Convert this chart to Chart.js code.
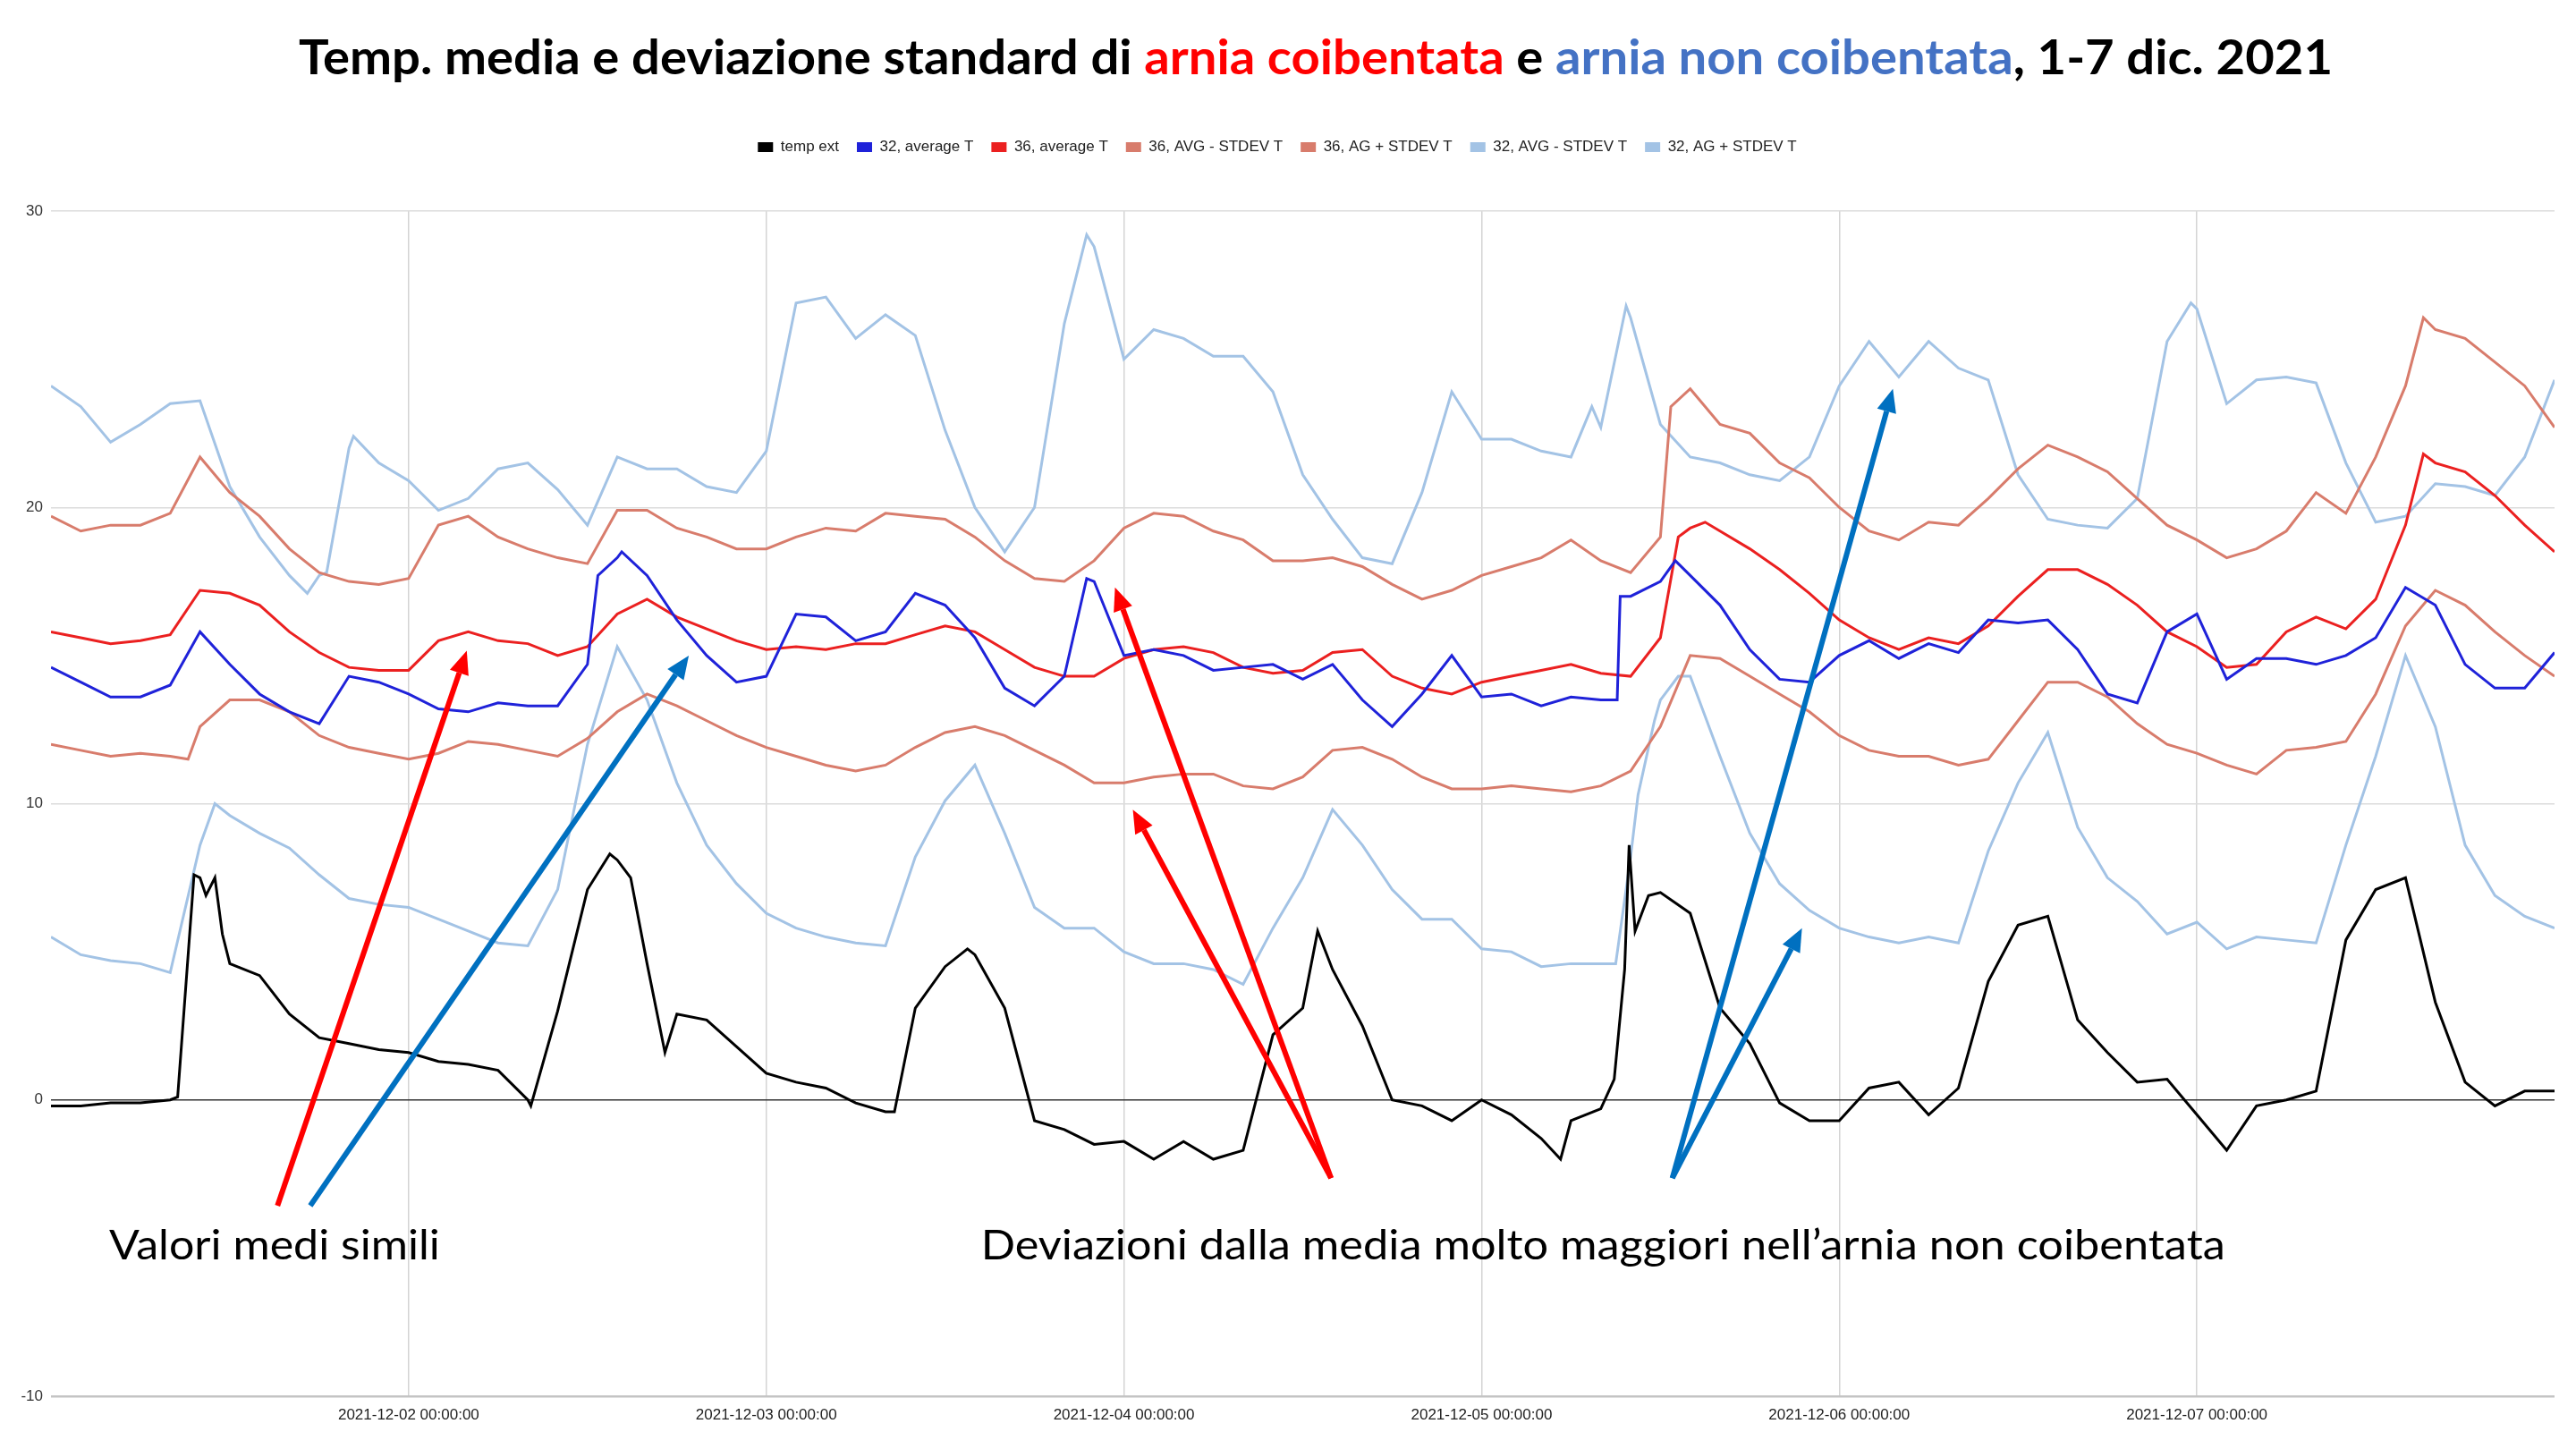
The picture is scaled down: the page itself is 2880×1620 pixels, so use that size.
<!DOCTYPE html>
<html>
<head>
<meta charset="utf-8">
<script src="https://cdn.jsdelivr.net/npm/chart.js@4.4.1/dist/chart.umd.min.js"></script>
<style>
html,body{margin:0;padding:0;background:#ffffff;}
#wrap{position:relative;width:2880px;height:1620px;}
canvas{position:absolute;left:0;top:0;}
</style>
</head>
<body>
<div id="wrap"><canvas id="c" width="2880" height="1620"></canvas></div>
<script>
// Times are hours since 2021-12-01 00:00; values in °C
const dayLabels = ['2021-12-01 00:00:00','2021-12-02 00:00:00','2021-12-03 00:00:00','2021-12-04 00:00:00','2021-12-05 00:00:00','2021-12-06 00:00:00','2021-12-07 00:00:00','2021-12-08 00:00:00'];

const seriesNames = ['temp ext','32, average T','36, average T','36, AVG - STDEV T','36, AG + STDEV T','32, AVG - STDEV T','32, AG + STDEV T'];

const tempExtHours = [0,2,4,6,8,8.5,9.6,10,10.4,11,11.5,12,14,16,18,20,22,
 24,26,28,30,32,32.2,34,36,37.5,38,38.9,40,41.2,42,44,46,
 48,50,52,54,56,56.6,58,60,61.5,62,64,66,68,70,
 72,74,76,78,80,82,84,85,86,88,90,92,94,
 96,98,100,101.3,102,104,104.9,105.6,105.9,106.3,107.2,108,110,112,114,116,118,
 120,122,124,126,128,130,132,134,136,138,140,142,
 144,146,148,150,152,154,156,158,160,162,164,166,168];
const tempExt = [-0.2,-0.2,-0.1,-0.1,0.0,0.1,7.6,7.5,6.9,7.5,5.6,4.6,4.2,2.9,2.1,1.9,1.7,
 1.6,1.3,1.2,1.0,0.0,-0.2,3.0,7.1,8.3,8.1,7.5,4.6,1.6,2.9,2.7,1.8,
 0.9,0.6,0.4,-0.1,-0.4,-0.4,3.1,4.5,5.1,4.9,3.1,-0.7,-1.0,-1.5,
 -1.4,-2.0,-1.4,-2.0,-1.7,2.2,3.1,5.7,4.4,2.5,0.0,-0.2,-0.7,
 0.0,-0.5,-1.3,-2.0,-0.7,-0.3,0.7,4.4,8.6,5.7,6.9,7.0,6.3,3.1,1.9,-0.1,-0.7,
 -0.7,0.4,0.6,-0.5,0.4,4.0,5.9,6.2,2.7,1.6,0.6,0.7,
 -0.5,-1.7,-0.2,0.0,0.3,5.4,7.1,7.5,3.3,0.6,-0.2,0.3,0.3];

const avg32Hours = [0,2,4,6,8,10,12,14,16,18,20,22,
 24,26,28,30,32,34,36,36.7,38,38.3,40,42,44,46,
 48,50,52,54,56,58,60,62,64,66,68,69.5,70,
 72,74,76,78,80,82,84,86,88,90,92,94,
 96,98,100,102,104,105.1,105.3,106,108,109,110,112,114,116,118,
 120,122,124,126,128,130,132,134,136,138,140,142,
 144,146,148,150,152,154,156,158,160,162,164,166,168];
const avg32 = [14.6,14.1,13.6,13.6,14.0,15.8,14.7,13.7,13.1,12.7,14.3,14.1,
 13.7,13.2,13.1,13.4,13.3,13.3,14.7,17.7,18.3,18.5,17.7,16.2,15.0,14.1,
 14.3,16.4,16.3,15.5,15.8,17.1,16.7,15.6,13.9,13.3,14.3,17.6,17.5,
 15.0,15.2,15.0,14.5,14.6,14.7,14.2,14.7,13.5,12.6,13.7,15.0,
 13.6,13.7,13.3,13.6,13.5,13.5,17.0,17.0,17.5,18.2,17.7,16.7,15.2,14.2,14.1,
 15.0,15.5,14.9,15.4,15.1,16.2,16.1,16.2,15.2,13.7,13.4,15.8,
 16.4,14.2,14.9,14.9,14.7,15.0,15.6,17.3,16.7,14.7,13.9,13.9,15.1];

const avg36Hours = [0,2,4,6,8,10,12,14,16,18,20,22,
 24,26,28,30,32,34,36,38,40,42,44,46,
 48,50,52,54,56,58,60,62,64,66,68,70,
 72,74,76,78,80,82,84,86,88,90,92,94,
 96,98,100,102,104,106,108,109.2,110,111,112,114,116,118,
 120,122,124,126,128,130,132,134,136,138,140,142,
 144,146,148,150,152,154,156,158,159.2,160,162,164,166,168];
const avg36 = [15.8,15.6,15.4,15.5,15.7,17.2,17.1,16.7,15.8,15.1,14.6,14.5,
 14.5,15.5,15.8,15.5,15.4,15.0,15.3,16.4,16.9,16.3,15.9,15.5,
 15.2,15.3,15.2,15.4,15.4,15.7,16.0,15.8,15.2,14.6,14.3,14.3,
 14.9,15.2,15.3,15.1,14.6,14.4,14.5,15.1,15.2,14.3,13.9,13.7,
 14.1,14.3,14.5,14.7,14.4,14.3,15.6,19.0,19.3,19.5,19.2,18.6,17.9,17.1,
 16.2,15.6,15.2,15.6,15.4,16.0,17.0,17.9,17.9,17.4,16.7,15.8,
 15.3,14.6,14.7,15.8,16.3,15.9,16.9,19.4,21.8,21.5,21.2,20.4,19.4,18.5];

const lo36Hours = [0,2,4,6,8,9.2,10,12,14,16,18,20,22,
 24,26,28,30,32,34,36,38,40,42,44,46,
 48,50,52,54,56,58,60,62,64,66,68,70,
 72,74,76,78,80,82,84,86,88,90,92,94,
 96,98,100,102,104,106,108,110,112,114,116,118,
 120,122,124,126,128,130,132,134,136,138,140,142,
 144,146,148,150,152,154,156,158,160,162,164,166,168];
const lo36 = [12.0,11.8,11.6,11.7,11.6,11.5,12.6,13.5,13.5,13.1,12.3,11.9,11.7,
 11.5,11.7,12.1,12.0,11.8,11.6,12.2,13.1,13.7,13.3,12.8,12.3,
 11.9,11.6,11.3,11.1,11.3,11.9,12.4,12.6,12.3,11.8,11.3,10.7,
 10.7,10.9,11.0,11.0,10.6,10.5,10.9,11.8,11.9,11.5,10.9,10.5,
 10.5,10.6,10.5,10.4,10.6,11.1,12.6,15.0,14.9,14.3,13.7,13.1,
 12.3,11.8,11.6,11.6,11.3,11.5,12.8,14.1,14.1,13.6,12.7,12.0,
 11.7,11.3,11.0,11.8,11.9,12.1,13.7,16.0,17.2,16.7,15.8,15.0,14.3];

const hi36Hours = [0,2,4,6,8,10,12,14,16,18,20,22,
 24,26,28,30,32,34,36,38,40,42,44,46,
 48,50,52,54,56,58,60,62,64,66,68,70,
 72,74,76,78,80,82,84,86,88,90,92,94,
 96,98,100,102,104,106,108,108.7,110,112,114,116,118,
 120,122,124,126,128,130,132,134,136,138,140,142,
 144,146,148,150,152,154,156,158,159.2,160,162,164,166,168];
const hi36 = [19.7,19.2,19.4,19.4,19.8,21.7,20.5,19.7,18.6,17.8,17.5,17.4,
 17.6,19.4,19.7,19.0,18.6,18.3,18.1,19.9,19.9,19.3,19.0,18.6,
 18.6,19.0,19.3,19.2,19.8,19.7,19.6,19.0,18.2,17.6,17.5,18.2,
 19.3,19.8,19.7,19.2,18.9,18.2,18.2,18.3,18.0,17.4,16.9,17.2,
 17.7,18.0,18.3,18.9,18.2,17.8,19.0,23.4,24.0,22.8,22.5,21.5,21.0,
 20.0,19.2,18.9,19.5,19.4,20.3,21.3,22.1,21.7,21.2,20.3,19.4,
 18.9,18.3,18.6,19.2,20.5,19.8,21.7,24.1,26.4,26.0,25.7,24.9,24.1,22.7];

const lo32Hours = [0,2,4,6,8,10,11,12,14,16,18,20,22,
 24,26,28,30,32,34,36,38,40,42,44,46,
 48,50,52,54,56,58,60,62,64,66,68,70,
 72,74,76,78,80,82,84,86,88,90,92,94,
 96,98,100,102,104,105,106,106.5,107.6,108,109.2,110,112,114,116,118,
 120,122,124,126,128,130,132,134,136,138,140,142,
 144,146,148,150,152,154,156,158,160,162,164,166,168];
const lo32 = [5.5,4.9,4.7,4.6,4.3,8.6,10.0,9.6,9.0,8.5,7.6,6.8,6.6,
 6.5,6.1,5.7,5.3,5.2,7.1,12.0,15.3,13.5,10.7,8.6,7.3,
 6.3,5.8,5.5,5.3,5.2,8.2,10.1,11.3,9.0,6.5,5.8,5.8,
 5.0,4.6,4.6,4.4,3.9,5.8,7.5,9.8,8.6,7.1,6.1,6.1,
 5.1,5.0,4.5,4.6,4.6,4.6,8.2,10.3,12.8,13.5,14.3,14.3,11.6,9.0,7.3,6.4,
 5.8,5.5,5.3,5.5,5.3,8.4,10.7,12.4,9.2,7.5,6.7,5.6,
 6.0,5.1,5.5,5.4,5.3,8.6,11.6,15.0,12.6,8.6,6.9,6.2,5.8];

const hi32Hours = [0,2,4,6,8,10,12,14,16,17.2,18,18.5,20,20.3,22,
 24,26,28,30,32,34,36,38,40,42,44,46,
 48,50,52,54,56,58,60,62,64,66,68,69.5,70,
 72,74,76,78,80,82,84,86,88,90,92,94,
 96,98,100,102,103.4,104,105.7,106,108,110,112,114,116,118,
 120,122,124,126,128,130,132,134,136,138,140,142,143.6,
 144,146,148,150,152,154,156,158,160,162,164,166,168];
const hi32 = [24.1,23.4,22.2,22.8,23.5,23.6,20.7,19.0,17.7,17.1,17.7,17.8,22.0,22.4,21.5,
 20.9,19.9,20.3,21.3,21.5,20.6,19.4,21.7,21.3,21.3,20.7,20.5,
 21.9,26.9,27.1,25.7,26.5,25.8,22.6,20.0,18.5,20.0,26.2,29.2,28.8,
 25.0,26.0,25.7,25.1,25.1,23.9,21.1,19.6,18.3,18.1,20.5,23.9,
 22.3,22.3,21.9,21.7,23.4,22.7,26.8,26.4,22.8,21.7,21.5,21.1,20.9,21.7,
 24.1,25.6,24.4,25.6,24.7,24.3,21.1,19.6,19.4,19.3,20.3,25.6,26.9,
 26.7,23.5,24.3,24.4,24.2,21.5,19.5,19.7,20.8,20.7,20.4,21.7,24.3];

const seriesHours = [tempExtHours, avg32Hours, avg36Hours, lo36Hours, hi36Hours, lo32Hours, hi32Hours];
const seriesValues = [tempExt, avg32, avg36, lo36, hi36, lo32, hi32];
const seriesColors = ['#000000','#1f22d9','#eb2020','#d87c6c','#d87c6c','#a3c3e5','#a3c3e5'];

// annotations (data coordinates: hours, °C)
const arrows = [
  {from:[15.2,-3.57], to:[27.9,15.16], color:'#ff0000'},
  {from:[17.4,-3.57], to:[42.8,15.0], color:'#0070c0'},
  {from:[85.9,-2.64], to:[71.4,17.3], color:'#ff0000'},
  {from:[85.9,-2.64], to:[72.6,9.8], color:'#ff0000'},
  {from:[108.8,-2.64], to:[123.6,24.0], color:'#0070c0'},
  {from:[108.8,-2.64], to:[117.5,5.8], color:'#0070c0'}
];
const notes = [
  {text:'Valori medi simili', x0:3.9, x1:26.1, y:-5.38},
  {text:'Deviazioni dalla media molto maggiori nell\u2019arnia non coibentata', x0:62.4, x1:145.9, y:-5.38}
];
const titleParts = [
  {text:'Temp. media e deviazione standard di ', color:'#000000'},
  {text:'arnia coibentata', color:'#ff0000'},
  {text:' e ', color:'#000000'},
  {text:'arnia non coibentata', color:'#4472c4'},
  {text:', 1-7 dic. 2021', color:'#000000'}
];

function drawArrow(ctx, x0, y0, x1, y1, color, w, hl, hw) {
  const a = Math.atan2(y1 - y0, x1 - x0);
  const bx = x1 - hl * Math.cos(a), by = y1 - hl * Math.sin(a);
  ctx.strokeStyle = color; ctx.lineWidth = w; ctx.lineCap = 'butt';
  ctx.beginPath(); ctx.moveTo(x0, y0); ctx.lineTo(bx, by); ctx.stroke();
  ctx.fillStyle = color;
  ctx.beginPath();
  ctx.moveTo(x1, y1);
  ctx.lineTo(bx + hw / 2 * Math.sin(a), by - hw / 2 * Math.cos(a));
  ctx.lineTo(bx - hw / 2 * Math.sin(a), by + hw / 2 * Math.cos(a));
  ctx.closePath(); ctx.fill();
}

const annotationPlugin = {
  id: 'annot',
  afterDraw(chart) {
    const ctx = chart.ctx, xs = chart.scales.x, ys = chart.scales.y;
    ctx.save();
    // title
    ctx.font = 'bold 53px Lato, "Open Sans", sans-serif';
    ctx.textBaseline = 'alphabetic'; ctx.textAlign = 'left';
    let total = 0; titleParts.forEach(p => total += ctx.measureText(p.text).width);
    const tw = 2274, tcx = 1471, sx = tw / total;
    ctx.save(); ctx.translate(tcx - tw / 2, 83); ctx.scale(sx, 1);
    let cx = 0;
    titleParts.forEach(p => { ctx.fillStyle = p.color; ctx.fillText(p.text, cx, 0); cx += ctx.measureText(p.text).width; });
    ctx.restore();
    // arrows
    arrows.forEach(a => {
      drawArrow(ctx, xs.getPixelForValue(a.from[0]), ys.getPixelForValue(a.from[1]),
        xs.getPixelForValue(a.to[0]), ys.getPixelForValue(a.to[1]), a.color, 6, 26, 22);
    });
    // notes
    ctx.font = '47px Lato, "Open Sans", sans-serif';
    ctx.fillStyle = '#000000';
    notes.forEach(n => {
      const px0 = xs.getPixelForValue(n.x0), px1 = xs.getPixelForValue(n.x1), py = ys.getPixelForValue(n.y);
      const w = ctx.measureText(n.text).width;
      ctx.save(); ctx.translate(px0, py); ctx.scale((px1 - px0) / w, 1);
      ctx.fillText(n.text, 0, 0); ctx.restore();
    });
    ctx.restore();
  }
};

const datasets = seriesNames.map((name, i) => ({
  label: name,
  data: seriesHours[i].map((h, k) => ({x: h, y: seriesValues[i][k]})),
  borderColor: seriesColors[i],
  backgroundColor: seriesColors[i],
  borderWidth: 3,
  pointRadius: 0,
  tension: 0
}));

new Chart(document.getElementById('c'), {
  type: 'line',
  data: { datasets },
  plugins: [annotationPlugin],
  options: {
    responsive: false,
    animation: false,
    devicePixelRatio: 1,
    parsing: false,
    layout: { padding: { top: 136, left: 0, right: 24, bottom: 0 } },
    plugins: {
      title: { display: false },
      subtitle: { display: true, text: '', weight: 500, padding: { top: 26, bottom: 26 }, font: { size: 1, lineHeight: 1 } },
      tooltip: { enabled: false },
      legend: {
        display: true, position: 'top', align: 'center',
        labels: {
          boxWidth: 17, boxHeight: 11, padding: 20, color: '#222222',
          font: { family: '"Liberation Sans", Arial, sans-serif', size: 17 },
          generateLabels(chart) {
            const items = Chart.defaults.plugins.legend.labels.generateLabels(chart);
            items.forEach(it => { it.lineWidth = 0; it.fillStyle = it.strokeStyle; });
            return items;
          }
        }
      }
    },
    scales: {
      x: {
        type: 'linear', min: 0, max: 168,
        afterFit(s) { s.height = 59; },
        border: { display: false },
        grid: {
          drawTicks: false, lineWidth: 1.5,
          color: c => (c.tick && (c.tick.value === 0 || c.tick.value === 168)) ? 'rgba(0,0,0,0)' : '#d4d4d4'
        },
        ticks: {
          stepSize: 24, autoSkip: false, maxRotation: 0, padding: 11, color: '#222222',
          font: { family: '"Liberation Sans", Arial, sans-serif', size: 17 },
          callback: v => (v > 0 && v < 168 && v % 24 === 0) ? dayLabels[v / 24] : ''
        }
      },
      y: {
        min: -10, max: 30,
        afterFit(s) { s.width = 57; },
        border: { display: false },
        grid: {
          drawTicks: false,
          color: c => c.tick.value === 0 ? '#333333' : (c.tick.value === -10 ? '#c4c4c4' : '#dcdcdc'),
          lineWidth: c => c.tick.value === 0 ? 1.5 : (c.tick.value === -10 ? 2.5 : 1.5)
        },
        ticks: {
          stepSize: 10, padding: 9, color: '#333333',
          font: { family: '"Liberation Sans", Arial, sans-serif', size: 17 }
        }
      }
    }
  }
});
</script>
</body>
</html>
